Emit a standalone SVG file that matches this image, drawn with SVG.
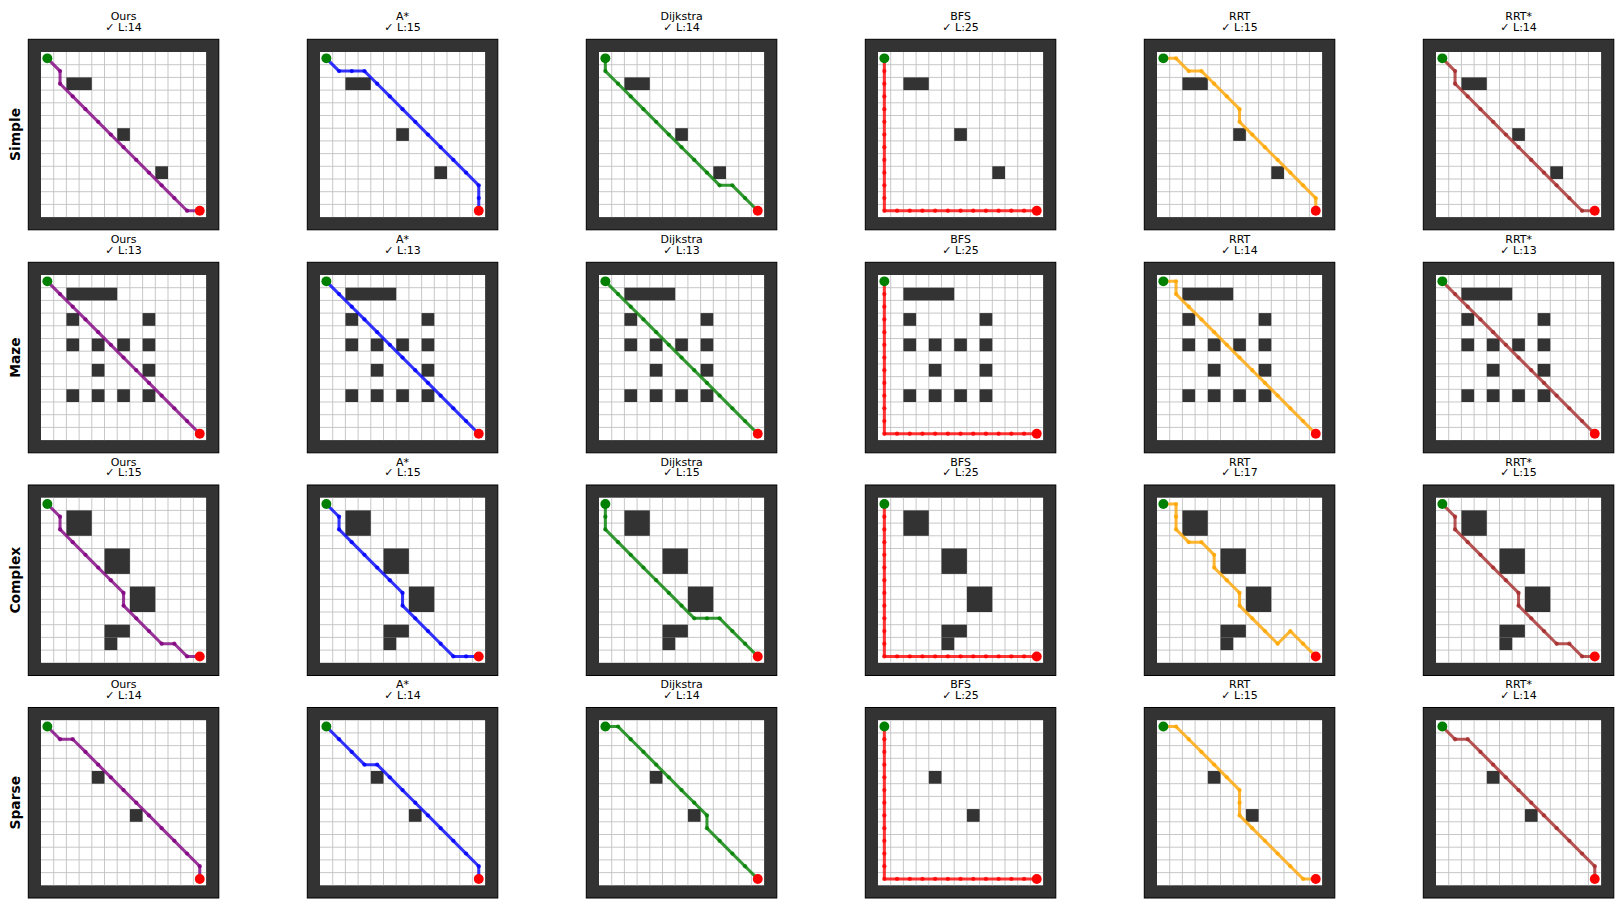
<svg xmlns="http://www.w3.org/2000/svg" xmlns:xlink="http://www.w3.org/1999/xlink" width="1615" height="899" viewBox="0 0 1615 899">
<style>
.t{font-family:"DejaVu Sans","Liberation Sans",sans-serif;font-size:11px;text-anchor:middle;fill:#000}
.rl{font-family:"DejaVu Sans","Liberation Sans",sans-serif;font-size:13.8px;font-weight:bold;text-anchor:middle;fill:#000}
.p{fill:none;stroke-width:0.24;stroke-linejoin:round;stroke-linecap:butt;stroke-opacity:0.8}
.ours{stroke:#800080;marker:url(#mk-ours)}
.astar{stroke:#0000ff;marker:url(#mk-astar)}
.dijk{stroke:#008000;marker:url(#mk-dijk)}
.bfs{stroke:#ff0000;marker:url(#mk-bfs)}
.rrt{stroke:#ffa500;marker:url(#mk-rrt)}
.rrts{stroke:#a52a2a;marker:url(#mk-rrts)}
.ob{fill:#333333}
</style>
<defs>
<marker id="mk-ours" markerUnits="userSpaceOnUse" markerWidth="1" markerHeight="1" viewBox="-0.5 -0.5 1 1" overflow="visible"><circle r="0.17" fill="#800080" fill-opacity="0.8"/></marker>
<marker id="mk-astar" markerUnits="userSpaceOnUse" markerWidth="1" markerHeight="1" viewBox="-0.5 -0.5 1 1" overflow="visible"><circle r="0.17" fill="#0000ff" fill-opacity="0.8"/></marker>
<marker id="mk-dijk" markerUnits="userSpaceOnUse" markerWidth="1" markerHeight="1" viewBox="-0.5 -0.5 1 1" overflow="visible"><circle r="0.17" fill="#008000" fill-opacity="0.8"/></marker>
<marker id="mk-bfs" markerUnits="userSpaceOnUse" markerWidth="1" markerHeight="1" viewBox="-0.5 -0.5 1 1" overflow="visible"><circle r="0.17" fill="#ff0000" fill-opacity="0.8"/></marker>
<marker id="mk-rrt" markerUnits="userSpaceOnUse" markerWidth="1" markerHeight="1" viewBox="-0.5 -0.5 1 1" overflow="visible"><circle r="0.17" fill="#ffa500" fill-opacity="0.8"/></marker>
<marker id="mk-rrts" markerUnits="userSpaceOnUse" markerWidth="1" markerHeight="1" viewBox="-0.5 -0.5 1 1" overflow="visible"><circle r="0.17" fill="#a52a2a" fill-opacity="0.8"/></marker>
<g id="base">
<rect x="0" y="0" width="15" height="15" fill="#333333" stroke="#000" stroke-width="0.08"/>
<rect x="1" y="1" width="13" height="13" fill="#ffffff"/>
<path d="M2 1V14M3 1V14M4 1V14M5 1V14M6 1V14M7 1V14M8 1V14M9 1V14M10 1V14M11 1V14M12 1V14M13 1V14M1 2H14M1 3H14M1 4H14M1 5H14M1 6H14M1 7H14M1 8H14M1 9H14M1 10H14M1 11H14M1 12H14M1 13H14" stroke="#c0c0c0" stroke-width="0.07" fill="none"/>
</g>
<g id="m-simple" class="ob"><rect x="3" y="3" width="2" height="1"/><rect x="7" y="7" width="1" height="1"/><rect x="10" y="10" width="1" height="1"/></g>
<g id="m-maze" class="ob"><rect x="3" y="2" width="4" height="1"/><rect x="3" y="4" width="1" height="1"/><rect x="9" y="4" width="1" height="1"/><rect x="3" y="6" width="1" height="1"/><rect x="5" y="6" width="1" height="1"/><rect x="7" y="6" width="1" height="1"/><rect x="9" y="6" width="1" height="1"/><rect x="5" y="8" width="1" height="1"/><rect x="9" y="8" width="1" height="1"/><rect x="3" y="10" width="1" height="1"/><rect x="5" y="10" width="1" height="1"/><rect x="7" y="10" width="1" height="1"/><rect x="9" y="10" width="1" height="1"/></g>
<g id="m-complex" class="ob"><rect x="3" y="2" width="2" height="2"/><rect x="6" y="5" width="2" height="2"/><rect x="8" y="8" width="2" height="2"/><rect x="6" y="11" width="2" height="1"/><rect x="6" y="12" width="1" height="1"/></g>
<g id="m-sparse" class="ob"><rect x="5" y="5" width="1" height="1"/><rect x="8" y="8" width="1" height="1"/></g>
<g id="sg"><circle cx="1.5" cy="1.5" r="0.39" fill="#008000"/><circle cx="13.5" cy="13.5" r="0.39" fill="#ff0000"/></g>
</defs>
<rect width="1615" height="899" fill="#ffffff"/>

<g id="row-labels">
<text class="rl" transform="translate(19.5,134.5) rotate(-90)">Simple</text>
<text class="rl" transform="translate(19.5,357.5) rotate(-90)">Maze</text>
<text class="rl" transform="translate(19.5,580.2) rotate(-90)">Complex</text>
<text class="rl" transform="translate(19.5,802.7) rotate(-90)">Sparse</text>
</g>

<g id="titles">
<text class="t" x="123.6" y="20">Ours</text><text class="t" x="123.6" y="30.7">✓ L:14</text>
<text class="t" x="402.6" y="20">A*</text><text class="t" x="402.6" y="30.7">✓ L:15</text>
<text class="t" x="681.6" y="20">Dijkstra</text><text class="t" x="681.6" y="30.7">✓ L:14</text>
<text class="t" x="960.6" y="20">BFS</text><text class="t" x="960.6" y="30.7">✓ L:25</text>
<text class="t" x="1239.6" y="20">RRT</text><text class="t" x="1239.6" y="30.7">✓ L:15</text>
<text class="t" x="1518.6" y="20">RRT*</text><text class="t" x="1518.6" y="30.7">✓ L:14</text>

<text class="t" x="123.6" y="243">Ours</text><text class="t" x="123.6" y="253.7">✓ L:13</text>
<text class="t" x="402.6" y="243">A*</text><text class="t" x="402.6" y="253.7">✓ L:13</text>
<text class="t" x="681.6" y="243">Dijkstra</text><text class="t" x="681.6" y="253.7">✓ L:13</text>
<text class="t" x="960.6" y="243">BFS</text><text class="t" x="960.6" y="253.7">✓ L:25</text>
<text class="t" x="1239.6" y="243">RRT</text><text class="t" x="1239.6" y="253.7">✓ L:14</text>
<text class="t" x="1518.6" y="243">RRT*</text><text class="t" x="1518.6" y="253.7">✓ L:13</text>

<text class="t" x="123.6" y="465.7">Ours</text><text class="t" x="123.6" y="476.4">✓ L:15</text>
<text class="t" x="402.6" y="465.7">A*</text><text class="t" x="402.6" y="476.4">✓ L:15</text>
<text class="t" x="681.6" y="465.7">Dijkstra</text><text class="t" x="681.6" y="476.4">✓ L:15</text>
<text class="t" x="960.6" y="465.7">BFS</text><text class="t" x="960.6" y="476.4">✓ L:25</text>
<text class="t" x="1239.6" y="465.7">RRT</text><text class="t" x="1239.6" y="476.4">✓ L:17</text>
<text class="t" x="1518.6" y="465.7">RRT*</text><text class="t" x="1518.6" y="476.4">✓ L:15</text>

<text class="t" x="123.6" y="688.2">Ours</text><text class="t" x="123.6" y="698.9">✓ L:14</text>
<text class="t" x="402.6" y="688.2">A*</text><text class="t" x="402.6" y="698.9">✓ L:14</text>
<text class="t" x="681.6" y="688.2">Dijkstra</text><text class="t" x="681.6" y="698.9">✓ L:14</text>
<text class="t" x="960.6" y="688.2">BFS</text><text class="t" x="960.6" y="698.9">✓ L:25</text>
<text class="t" x="1239.6" y="688.2">RRT</text><text class="t" x="1239.6" y="698.9">✓ L:15</text>
<text class="t" x="1518.6" y="688.2">RRT*</text><text class="t" x="1518.6" y="698.9">✓ L:14</text>
</g>

<!-- Row: Simple -->
<g id="simple-ours" transform="translate(28.3,39.3) scale(12.7)"><use href="#base"/><use href="#m-simple"/>
<polyline class="p ours" points="1.5,1.5 2.5,2.5 2.5,3.5 3.5,4.5 4.5,5.5 5.5,6.5 6.5,7.5 7.5,8.5 8.5,9.5 9.5,10.5 10.5,11.5 11.5,12.5 12.5,13.5 13.5,13.5"/><use href="#sg"/></g>
<g id="simple-astar" transform="translate(307.3,39.3) scale(12.7)"><use href="#base"/><use href="#m-simple"/>
<polyline class="p astar" points="1.5,1.5 2.5,2.5 3.5,2.5 4.5,2.5 5.5,3.5 6.5,4.5 7.5,5.5 8.5,6.5 9.5,7.5 10.5,8.5 11.5,9.5 12.5,10.5 13.5,11.5 13.5,12.5 13.5,13.5"/><use href="#sg"/></g>
<g id="simple-dijkstra" transform="translate(586.3,39.3) scale(12.7)"><use href="#base"/><use href="#m-simple"/>
<polyline class="p dijk" points="1.5,1.5 1.5,2.5 2.5,3.5 3.5,4.5 4.5,5.5 5.5,6.5 6.5,7.5 7.5,8.5 8.5,9.5 9.5,10.5 10.5,11.5 11.5,11.5 12.5,12.5 13.5,13.5"/><use href="#sg"/></g>
<g id="simple-bfs" transform="translate(865.3,39.3) scale(12.7)"><use href="#base"/><use href="#m-simple"/>
<polyline class="p bfs" points="1.5,1.5 1.5,2.5 1.5,3.5 1.5,4.5 1.5,5.5 1.5,6.5 1.5,7.5 1.5,8.5 1.5,9.5 1.5,10.5 1.5,11.5 1.5,12.5 1.5,13.5 2.5,13.5 3.5,13.5 4.5,13.5 5.5,13.5 6.5,13.5 7.5,13.5 8.5,13.5 9.5,13.5 10.5,13.5 11.5,13.5 12.5,13.5 13.5,13.5"/><use href="#sg"/></g>
<g id="simple-rrt" transform="translate(1144.3,39.3) scale(12.7)"><use href="#base"/><use href="#m-simple"/>
<polyline class="p rrt" points="1.5,1.5 2.5,1.5 3.5,2.5 4.5,2.5 5.5,3.5 6.5,4.5 7.5,5.5 7.5,6.5 8.5,7.5 9.5,8.5 10.5,9.5 11.5,10.5 12.5,11.5 13.5,12.5 13.5,13.5"/><use href="#sg"/></g>
<g id="simple-rrtstar" transform="translate(1423.3,39.3) scale(12.7)"><use href="#base"/><use href="#m-simple"/>
<polyline class="p rrts" points="1.5,1.5 2.5,2.5 2.5,3.5 3.5,4.5 4.5,5.5 5.5,6.5 6.5,7.5 7.5,8.5 8.5,9.5 9.5,10.5 10.5,11.5 11.5,12.5 12.5,13.5 13.5,13.5"/><use href="#sg"/></g>

<!-- Row: Maze -->
<g id="maze-ours" transform="translate(28.3,262.3) scale(12.7)"><use href="#base"/><use href="#m-maze"/>
<polyline class="p ours" points="1.5,1.5 2.5,2.5 3.5,3.5 4.5,4.5 5.5,5.5 6.5,6.5 7.5,7.5 8.5,8.5 9.5,9.5 10.5,10.5 11.5,11.5 12.5,12.5 13.5,13.5"/><use href="#sg"/></g>
<g id="maze-astar" transform="translate(307.3,262.3) scale(12.7)"><use href="#base"/><use href="#m-maze"/>
<polyline class="p astar" points="1.5,1.5 2.5,2.5 3.5,3.5 4.5,4.5 5.5,5.5 6.5,6.5 7.5,7.5 8.5,8.5 9.5,9.5 10.5,10.5 11.5,11.5 12.5,12.5 13.5,13.5"/><use href="#sg"/></g>
<g id="maze-dijkstra" transform="translate(586.3,262.3) scale(12.7)"><use href="#base"/><use href="#m-maze"/>
<polyline class="p dijk" points="1.5,1.5 2.5,2.5 3.5,3.5 4.5,4.5 5.5,5.5 6.5,6.5 7.5,7.5 8.5,8.5 9.5,9.5 10.5,10.5 11.5,11.5 12.5,12.5 13.5,13.5"/><use href="#sg"/></g>
<g id="maze-bfs" transform="translate(865.3,262.3) scale(12.7)"><use href="#base"/><use href="#m-maze"/>
<polyline class="p bfs" points="1.5,1.5 1.5,2.5 1.5,3.5 1.5,4.5 1.5,5.5 1.5,6.5 1.5,7.5 1.5,8.5 1.5,9.5 1.5,10.5 1.5,11.5 1.5,12.5 1.5,13.5 2.5,13.5 3.5,13.5 4.5,13.5 5.5,13.5 6.5,13.5 7.5,13.5 8.5,13.5 9.5,13.5 10.5,13.5 11.5,13.5 12.5,13.5 13.5,13.5"/><use href="#sg"/></g>
<g id="maze-rrt" transform="translate(1144.3,262.3) scale(12.7)"><use href="#base"/><use href="#m-maze"/>
<polyline class="p rrt" points="1.5,1.5 2.5,1.5 2.5,2.5 3.5,3.5 4.5,4.5 5.5,5.5 6.5,6.5 7.5,7.5 8.5,8.5 9.5,9.5 10.5,10.5 11.5,11.5 12.5,12.5 13.5,13.5"/><use href="#sg"/></g>
<g id="maze-rrtstar" transform="translate(1423.3,262.3) scale(12.7)"><use href="#base"/><use href="#m-maze"/>
<polyline class="p rrts" points="1.5,1.5 2.5,2.5 3.5,3.5 4.5,4.5 5.5,5.5 6.5,6.5 7.5,7.5 8.5,8.5 9.5,9.5 10.5,10.5 11.5,11.5 12.5,12.5 13.5,13.5"/><use href="#sg"/></g>

<!-- Row: Complex -->
<g id="complex-ours" transform="translate(28.3,485) scale(12.7)"><use href="#base"/><use href="#m-complex"/>
<polyline class="p ours" points="1.5,1.5 2.5,2.5 2.5,3.5 3.5,4.5 4.5,5.5 5.5,6.5 6.5,7.5 7.5,8.5 7.5,9.5 8.5,10.5 9.5,11.5 10.5,12.5 11.5,12.5 12.5,13.5 13.5,13.5"/><use href="#sg"/></g>
<g id="complex-astar" transform="translate(307.3,485) scale(12.7)"><use href="#base"/><use href="#m-complex"/>
<polyline class="p astar" points="1.5,1.5 2.5,2.5 2.5,3.5 3.5,4.5 4.5,5.5 5.5,6.5 6.5,7.5 7.5,8.5 7.5,9.5 8.5,10.5 9.5,11.5 10.5,12.5 11.5,13.5 12.5,13.5 13.5,13.5"/><use href="#sg"/></g>
<g id="complex-dijkstra" transform="translate(586.3,485) scale(12.7)"><use href="#base"/><use href="#m-complex"/>
<polyline class="p dijk" points="1.5,1.5 1.5,2.5 1.5,3.5 2.5,4.5 3.5,5.5 4.5,6.5 5.5,7.5 6.5,8.5 7.5,9.5 8.5,10.5 9.5,10.5 10.5,10.5 11.5,11.5 12.5,12.5 13.5,13.5"/><use href="#sg"/></g>
<g id="complex-bfs" transform="translate(865.3,485) scale(12.7)"><use href="#base"/><use href="#m-complex"/>
<polyline class="p bfs" points="1.5,1.5 1.5,2.5 1.5,3.5 1.5,4.5 1.5,5.5 1.5,6.5 1.5,7.5 1.5,8.5 1.5,9.5 1.5,10.5 1.5,11.5 1.5,12.5 1.5,13.5 2.5,13.5 3.5,13.5 4.5,13.5 5.5,13.5 6.5,13.5 7.5,13.5 8.5,13.5 9.5,13.5 10.5,13.5 11.5,13.5 12.5,13.5 13.5,13.5"/><use href="#sg"/></g>
<g id="complex-rrt" transform="translate(1144.3,485) scale(12.7)"><use href="#base"/><use href="#m-complex"/>
<polyline class="p rrt" points="1.5,1.5 2.5,1.5 2.5,2.5 2.5,3.5 3.5,4.5 4.5,4.5 5.5,5.5 5.5,6.5 6.5,7.5 7.5,8.5 7.5,9.5 8.5,10.5 9.5,11.5 10.5,12.5 11.5,11.5 12.5,12.5 13.5,13.5"/><use href="#sg"/></g>
<g id="complex-rrtstar" transform="translate(1423.3,485) scale(12.7)"><use href="#base"/><use href="#m-complex"/>
<polyline class="p rrts" points="1.5,1.5 2.5,2.5 2.5,3.5 3.5,4.5 4.5,5.5 5.5,6.5 6.5,7.5 7.5,8.5 7.5,9.5 8.5,10.5 9.5,11.5 10.5,12.5 11.5,12.5 12.5,13.5 13.5,13.5"/><use href="#sg"/></g>

<!-- Row: Sparse -->
<g id="sparse-ours" transform="translate(28.3,707.5) scale(12.7)"><use href="#base"/><use href="#m-sparse"/>
<polyline class="p ours" points="1.5,1.5 2.5,2.5 3.5,2.5 4.5,3.5 5.5,4.5 6.5,5.5 7.5,6.5 8.5,7.5 9.5,8.5 10.5,9.5 11.5,10.5 12.5,11.5 13.5,12.5 13.5,13.5"/><use href="#sg"/></g>
<g id="sparse-astar" transform="translate(307.3,707.5) scale(12.7)"><use href="#base"/><use href="#m-sparse"/>
<polyline class="p astar" points="1.5,1.5 2.5,2.5 3.5,3.5 4.5,4.5 5.5,4.5 6.5,5.5 7.5,6.5 8.5,7.5 9.5,8.5 10.5,9.5 11.5,10.5 12.5,11.5 13.5,12.5 13.5,13.5"/><use href="#sg"/></g>
<g id="sparse-dijkstra" transform="translate(586.3,707.5) scale(12.7)"><use href="#base"/><use href="#m-sparse"/>
<polyline class="p dijk" points="1.5,1.5 2.5,1.5 3.5,2.5 4.5,3.5 5.5,4.5 6.5,5.5 7.5,6.5 8.5,7.5 9.5,8.5 9.5,9.5 10.5,10.5 11.5,11.5 12.5,12.5 13.5,13.5"/><use href="#sg"/></g>
<g id="sparse-bfs" transform="translate(865.3,707.5) scale(12.7)"><use href="#base"/><use href="#m-sparse"/>
<polyline class="p bfs" points="1.5,1.5 1.5,2.5 1.5,3.5 1.5,4.5 1.5,5.5 1.5,6.5 1.5,7.5 1.5,8.5 1.5,9.5 1.5,10.5 1.5,11.5 1.5,12.5 1.5,13.5 2.5,13.5 3.5,13.5 4.5,13.5 5.5,13.5 6.5,13.5 7.5,13.5 8.5,13.5 9.5,13.5 10.5,13.5 11.5,13.5 12.5,13.5 13.5,13.5"/><use href="#sg"/></g>
<g id="sparse-rrt" transform="translate(1144.3,707.5) scale(12.7)"><use href="#base"/><use href="#m-sparse"/>
<polyline class="p rrt" points="1.5,1.5 2.5,1.5 3.5,2.5 4.5,3.5 5.5,4.5 6.5,5.5 7.5,6.5 7.5,7.5 7.5,8.5 8.5,9.5 9.5,10.5 10.5,11.5 11.5,12.5 12.5,13.5 13.5,13.5"/><use href="#sg"/></g>
<g id="sparse-rrtstar" transform="translate(1423.3,707.5) scale(12.7)"><use href="#base"/><use href="#m-sparse"/>
<polyline class="p rrts" points="1.5,1.5 2.5,2.5 3.5,2.5 4.5,3.5 5.5,4.5 6.5,5.5 7.5,6.5 8.5,7.5 9.5,8.5 10.5,9.5 11.5,10.5 12.5,11.5 13.5,12.5 13.5,13.5"/><use href="#sg"/></g>
</svg>
